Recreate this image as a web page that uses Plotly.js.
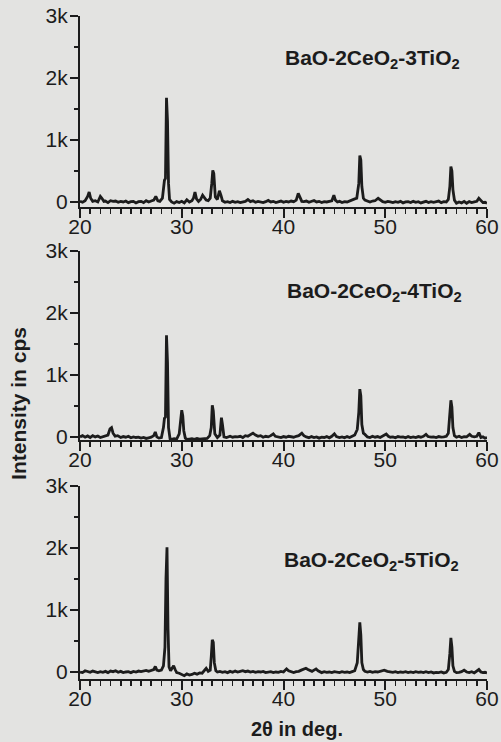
<!DOCTYPE html>
<html>
<head>
<meta charset="utf-8">
<script src="https://cdn.plot.ly/plotly-3.0.1.min.js"></script>
<style>
  html, body { margin: 0; padding: 0; background: #e3e3e1; }
  #chart { width: 501px; height: 742px; }
</style>
</head>
<body>
<div id="chart"></div>
<script>
// ---- Data (2θ in degrees, intensity in cps) ----
const p1x = [20.0,20.25,20.5,20.75,20.9,21.05,21.25,21.5,21.75,22.0,22.15,22.35,22.5,22.75,23.0,23.25,23.5,23.75,24.0,24.25,24.5,24.75,25.0,25.25,25.5,25.75,26.0,26.25,26.5,26.75,27.0,27.25,27.45,27.65,27.85,28.1,28.3,28.4,28.5,28.6,28.7,28.8,29.0,29.25,29.5,29.75,30.0,30.25,30.5,30.75,31.0,31.15,31.3,31.45,31.65,31.85,32.05,32.2,32.4,32.6,32.8,32.95,33.05,33.15,33.3,33.5,33.7,33.85,34.0,34.25,34.5,34.75,35.0,35.25,35.5,35.75,36.0,36.25,36.5,36.75,37.0,37.25,37.5,37.75,38.0,38.25,38.5,38.75,39.0,39.25,39.5,39.75,40.0,40.25,40.5,40.75,41.0,41.25,41.45,41.6,41.8,42.0,42.25,42.5,42.75,43.0,43.25,43.5,43.75,44.0,44.25,44.5,44.75,44.95,45.1,45.3,45.5,45.75,46.0,46.25,46.5,46.75,47.0,47.2,47.4,47.5,47.6,47.7,47.85,48.0,48.25,48.5,48.75,49.0,49.3,49.5,49.75,50.0,50.25,50.5,50.75,51.0,51.25,51.5,51.75,52.0,52.25,52.5,52.75,53.0,53.25,53.5,53.75,54.0,54.25,54.5,54.75,55.0,55.25,55.5,55.75,56.0,56.2,56.35,56.45,56.55,56.65,56.8,57.0,57.25,57.5,57.75,58.0,58.25,58.5,58.75,59.0,59.2,59.4,59.6,59.8,60.0];
const p1y = [10,-5,20,90,160,60,10,20,0,90,60,10,15,-10,20,10,15,-5,10,0,15,-10,5,10,-15,5,10,-10,20,0,15,30,90,20,10,60,350,380,1680,1300,300,40,0,-20,5,-10,10,-15,35,0,20,60,160,50,10,40,110,80,30,20,60,300,510,460,80,40,180,110,20,-5,5,-10,10,-5,5,-10,0,10,40,5,20,-5,10,0,-10,5,25,0,10,-10,5,15,-5,10,0,15,5,30,140,70,10,5,15,-5,10,25,0,10,-10,5,0,15,20,110,30,0,10,-10,5,0,20,30,50,60,300,750,680,250,60,30,10,0,15,20,60,30,5,-5,10,0,-10,5,-5,10,-15,0,5,-10,10,-5,5,-15,0,10,-10,5,-5,0,15,-10,5,0,40,250,570,500,200,30,-20,0,-15,10,-20,5,-10,0,10,60,30,-10,-5,-20];

const p2x = [20.0,20.25,20.5,20.75,21.0,21.25,21.5,21.75,22.0,22.25,22.5,22.75,22.95,23.1,23.25,23.45,23.7,24.0,24.25,24.5,24.75,25.0,25.25,25.5,25.75,26.0,26.25,26.5,26.75,27.0,27.25,27.4,27.55,27.75,28.0,28.2,28.3,28.4,28.5,28.6,28.7,28.85,29.0,29.25,29.5,29.75,29.9,30.0,30.1,30.2,30.35,30.5,30.75,31.0,31.25,31.5,31.75,32.0,32.25,32.5,32.75,32.9,33.0,33.1,33.25,33.5,33.75,33.9,34.0,34.15,34.4,34.75,35.0,35.25,35.5,35.75,36.0,36.25,36.5,36.75,37.0,37.25,37.5,37.75,38.0,38.25,38.5,38.75,39.0,39.2,39.5,39.75,40.0,40.25,40.5,40.75,41.0,41.25,41.5,41.8,42.0,42.25,42.5,42.75,43.0,43.25,43.5,43.75,44.0,44.25,44.5,44.75,45.0,45.2,45.5,45.75,46.0,46.25,46.5,46.75,47.0,47.25,47.4,47.5,47.6,47.7,47.85,48.0,48.25,48.5,48.75,49.0,49.25,49.5,49.75,50.1,50.3,50.5,50.75,51.0,51.25,51.5,51.75,52.0,52.25,52.5,52.75,53.0,53.25,53.5,53.75,54.0,54.2,54.5,54.75,55.0,55.25,55.5,55.75,56.0,56.2,56.35,56.45,56.55,56.65,56.8,57.0,57.25,57.5,57.75,58.0,58.3,58.5,58.75,59.0,59.2,59.4,59.6,59.8,60.0];
const p2y = [0,20,-5,15,-10,20,0,15,-10,5,10,30,130,150,60,10,20,-10,5,-5,10,-15,0,-10,-5,-20,-10,-25,-15,-5,20,80,0,-20,-10,150,300,320,1640,1200,150,-30,-40,-30,-35,50,280,430,340,100,-20,-40,-35,-30,-40,-25,-35,-30,-20,-25,20,150,510,420,50,-10,30,310,200,0,-10,10,-5,5,0,10,-10,20,10,30,60,30,10,20,-5,10,0,20,50,10,0,-10,5,-5,10,0,-5,10,20,60,20,0,-15,5,-10,0,-20,-5,-10,5,-15,10,50,5,-10,0,-15,5,-10,10,30,120,400,770,660,200,60,40,0,-10,10,-5,5,-10,15,45,10,-5,0,-15,5,-5,0,-15,5,-10,0,-10,5,-5,10,40,5,-5,0,-10,5,-5,0,10,60,350,590,480,150,20,-5,10,-10,5,0,40,10,0,10,70,-10,0,-20,-10];

const p3x = [20.0,20.25,20.5,20.75,21.0,21.25,21.5,21.75,22.0,22.25,22.5,22.75,23.0,23.25,23.5,23.75,24.0,24.25,24.5,24.75,25.0,25.25,25.5,25.75,26.0,26.25,26.5,26.75,27.0,27.25,27.4,27.55,27.75,28.0,28.2,28.35,28.45,28.55,28.65,28.75,28.9,29.05,29.2,29.35,29.5,29.75,30.0,30.25,30.5,30.75,31.0,31.25,31.5,31.75,32.0,32.25,32.4,32.6,32.8,32.9,33.0,33.1,33.2,33.35,33.5,33.75,34.0,34.25,34.5,34.75,35.0,35.25,35.5,35.75,36.0,36.25,36.5,36.75,37.0,37.25,37.5,37.75,38.0,38.25,38.5,38.75,39.0,39.25,39.5,39.75,40.0,40.3,40.5,40.75,41.0,41.25,41.5,41.75,42.0,42.2,42.4,42.6,42.8,43.0,43.2,43.4,43.6,43.75,44.0,44.25,44.5,44.75,45.0,45.25,45.5,45.75,46.0,46.25,46.5,46.75,47.0,47.25,47.4,47.5,47.6,47.7,47.85,48.0,48.25,48.5,48.75,49.0,49.25,49.5,49.9,50.2,50.5,50.75,51.0,51.25,51.5,51.75,52.0,52.25,52.5,52.75,53.0,53.25,53.5,53.75,54.0,54.25,54.5,54.75,55.0,55.25,55.5,55.75,56.0,56.2,56.35,56.45,56.55,56.65,56.8,57.0,57.25,57.5,57.75,58.0,58.25,58.5,58.75,59.0,59.2,59.4,59.6,59.8,60.0];
const p3y = [0,-10,20,10,-5,15,0,-10,5,-5,10,-10,15,5,20,-5,10,-10,0,5,-10,10,0,15,5,10,25,10,20,40,90,30,20,30,100,400,1500,2010,700,80,20,60,100,40,-10,-20,-40,-60,-30,-50,-40,-20,-35,-15,-20,30,60,10,30,250,520,480,150,20,0,10,-5,5,-10,10,-5,15,0,10,20,5,15,0,10,-5,5,0,10,-10,0,5,-10,0,-5,10,0,50,20,0,-10,5,10,30,50,60,40,20,10,30,50,20,0,-10,5,-5,0,-10,5,0,-10,5,-5,0,-10,5,20,150,500,800,600,150,40,10,0,10,-5,5,0,10,30,10,0,-5,5,-10,0,-5,5,-10,0,-10,5,-5,0,-10,5,-10,0,-15,-5,-10,0,-15,-5,40,300,550,400,100,10,-10,-5,5,30,0,-10,5,-15,10,40,0,-10,-5,-15];

const sampleNames = ['BaO-2CeO<sub>2</sub>-3TiO<sub>2</sub>',
                     'BaO-2CeO<sub>2</sub>-4TiO<sub>2</sub>',
                     'BaO-2CeO<sub>2</sub>-5TiO<sub>2</sub>'];
const xTitle = '2θ in deg.';
const yTitle = 'Intensity in cps';

// ---- Styling ----
const ink = '#1c1c1c';
const fontFam = '"Liberation Sans", Arial, sans-serif';

const traceStyle = {mode: 'lines', line: {color: ink, width: 2.8}, showlegend: false, hoverinfo: 'skip'};
const traces = [
  Object.assign({x: p1x, y: p1y, xaxis: 'x', yaxis: 'y'}, traceStyle),
  Object.assign({x: p2x, y: p2y, xaxis: 'x2', yaxis: 'y2'}, traceStyle),
  Object.assign({x: p3x, y: p3y, xaxis: 'x3', yaxis: 'y3'}, traceStyle)
];

function xAxis(anchor) {
  return {
    anchor: anchor, range: [20, 60], tick0: 20, dtick: 10,
    showline: true, linecolor: ink, linewidth: 2,
    ticks: 'outside', ticklen: 9, tickwidth: 2, tickcolor: ink,
    minor: {dtick: 1, ticks: 'outside', ticklen: 5, tickwidth: 1.6, tickcolor: ink, showgrid: false},
    showgrid: false, zeroline: false, ticklabelstandoff: -9,
    tickfont: {family: fontFam, size: 21, color: ink}
  };
}
function yAxis(anchor, dom, lo) {
  return {
    anchor: anchor, domain: dom, range: [lo, 3000], tick0: 0, dtick: 1000, tickformat: '~s',
    showline: true, linecolor: ink, linewidth: 2,
    ticks: 'outside', ticklen: 8, tickwidth: 2, tickcolor: ink,
    minor: {dtick: 500, ticks: 'outside', ticklen: 4, tickwidth: 1.6, tickcolor: ink, showgrid: false},
    showgrid: false, zeroline: false, ticklabelstandoff: -2,
    tickfont: {family: fontFam, size: 21, color: ink}
  };
}

const nameFont = {family: fontFam, size: 21, color: ink};
const layout = {
  width: 501, height: 742,
  margin: {l: 80, r: 14, t: 16, b: 63},
  paper_bgcolor: '#e3e3e1', plot_bgcolor: 'rgba(0,0,0,0)',
  xaxis: xAxis('y'), xaxis2: xAxis('y2'), xaxis3: xAxis('y3'),
  yaxis: yAxis('x', [0.712, 1], -80),
  yaxis2: yAxis('x2', [0.3605, 0.6456], -50),
  yaxis3: yAxis('x3', [0, 0.2911], -113),
  annotations: [
    {xref: 'x', yref: 'y', x: 48.75, y: 2300, text: '<b>' + sampleNames[0] + '</b>', showarrow: false, font: nameFont, xanchor: 'center', yanchor: 'middle'},
    {xref: 'x2', yref: 'y2', x: 48.9, y: 2340, text: '<b>' + sampleNames[1] + '</b>', showarrow: false, font: nameFont, xanchor: 'center', yanchor: 'middle'},
    {xref: 'x3', yref: 'y3', x: 48.6, y: 1790, text: '<b>' + sampleNames[2] + '</b>', showarrow: false, font: nameFont, xanchor: 'center', yanchor: 'middle'},
    {xref: 'paper', yref: 'paper', x: -0.15, y: 0.4163, text: '<b>' + yTitle + '</b>', textangle: -90, showarrow: false,
     xanchor: 'center', yanchor: 'middle', font: {family: fontFam, size: 21, color: ink}},
    {xref: 'paper', yref: 'paper', x: 0.534, y: -0.0754, text: '<b>' + xTitle + '</b>', showarrow: false,
     xanchor: 'center', yanchor: 'middle', font: {family: fontFam, size: 20, color: ink}}
  ]
};

Plotly.newPlot('chart', traces, layout, {staticPlot: true, displayModeBar: false});
</script>
</body>
</html>
